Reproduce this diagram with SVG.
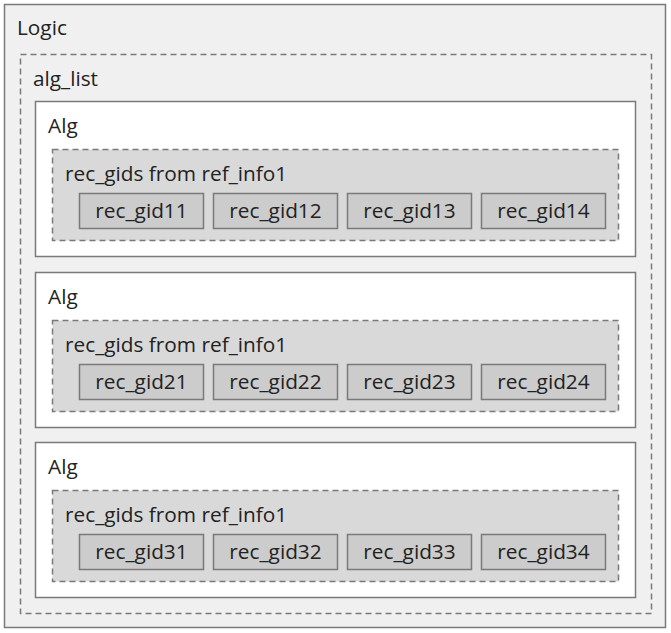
<svg xmlns="http://www.w3.org/2000/svg" width="671" height="633" viewBox="0 0 671 633">
<style>
text{font-family:"Segoe UI","Open Sans","Noto Sans","Liberation Sans",sans-serif;font-size:20.8px;fill:#222}
.outer{fill:#f0f0f0;stroke:#7a7a7a;stroke-width:1.5}
.list{fill:#f0f0f0;stroke:#7a7a7a;stroke-width:1.5;stroke-dasharray:6 4}
.alg{fill:#ffffff;stroke:#7a7a7a;stroke-width:1.5}
.grp{fill:#d9d9d9;stroke:#7a7a7a;stroke-width:1.5;stroke-dasharray:6 4}
.gid{fill:#cccccc;stroke:#7a7a7a;stroke-width:1.5}
.c{text-anchor:middle}
</style>
<g id="logic">
<rect class="outer" x="4.5" y="4.5" width="661" height="623"/>
<text x="17" y="35">Logic</text>
</g>
<g id="alg_list">
<rect class="list" x="20.5" y="54.5" width="631" height="559"/>
<text x="33" y="86">alg_list</text>
</g>
<g id="alg1">
<rect class="alg" x="35.5" y="101.5" width="600" height="155"/>
<text x="48" y="133">Alg</text>
<g id="grp1">
<rect class="grp" x="52.5" y="149.5" width="566" height="91"/>
<text x="65" y="181">rec_gids from ref_info1</text>
</g>
<g id="rec_gid11"><rect class="gid" x="79.5" y="193.5" width="124" height="35"/><text class="c" x="141.5" y="218">rec_gid11</text></g>
<g id="rec_gid12"><rect class="gid" x="213.5" y="193.5" width="124" height="35"/><text class="c" x="275.5" y="218">rec_gid12</text></g>
<g id="rec_gid13"><rect class="gid" x="347.5" y="193.5" width="124" height="35"/><text class="c" x="409.5" y="218">rec_gid13</text></g>
<g id="rec_gid14"><rect class="gid" x="481.5" y="193.5" width="124" height="35"/><text class="c" x="543.5" y="218">rec_gid14</text></g>
</g>
<g id="alg2" transform="translate(0,171)">
<rect class="alg" x="35.5" y="101.5" width="600" height="155"/>
<text x="48" y="133">Alg</text>
<g id="grp2">
<rect class="grp" x="52.5" y="149.5" width="566" height="91"/>
<text x="65" y="181">rec_gids from ref_info1</text>
</g>
<g id="rec_gid21"><rect class="gid" x="79.5" y="193.5" width="124" height="35"/><text class="c" x="141.5" y="218">rec_gid21</text></g>
<g id="rec_gid22"><rect class="gid" x="213.5" y="193.5" width="124" height="35"/><text class="c" x="275.5" y="218">rec_gid22</text></g>
<g id="rec_gid23"><rect class="gid" x="347.5" y="193.5" width="124" height="35"/><text class="c" x="409.5" y="218">rec_gid23</text></g>
<g id="rec_gid24"><rect class="gid" x="481.5" y="193.5" width="124" height="35"/><text class="c" x="543.5" y="218">rec_gid24</text></g>
</g>
<g id="alg3" transform="translate(0,341)">
<rect class="alg" x="35.5" y="101.5" width="600" height="155"/>
<text x="48" y="133">Alg</text>
<g id="grp3">
<rect class="grp" x="52.5" y="149.5" width="566" height="91"/>
<text x="65" y="181">rec_gids from ref_info1</text>
</g>
<g id="rec_gid31"><rect class="gid" x="79.5" y="193.5" width="124" height="35"/><text class="c" x="141.5" y="218">rec_gid31</text></g>
<g id="rec_gid32"><rect class="gid" x="213.5" y="193.5" width="124" height="35"/><text class="c" x="275.5" y="218">rec_gid32</text></g>
<g id="rec_gid33"><rect class="gid" x="347.5" y="193.5" width="124" height="35"/><text class="c" x="409.5" y="218">rec_gid33</text></g>
<g id="rec_gid34"><rect class="gid" x="481.5" y="193.5" width="124" height="35"/><text class="c" x="543.5" y="218">rec_gid34</text></g>
</g>
<g id="connectors"/>
</svg>
